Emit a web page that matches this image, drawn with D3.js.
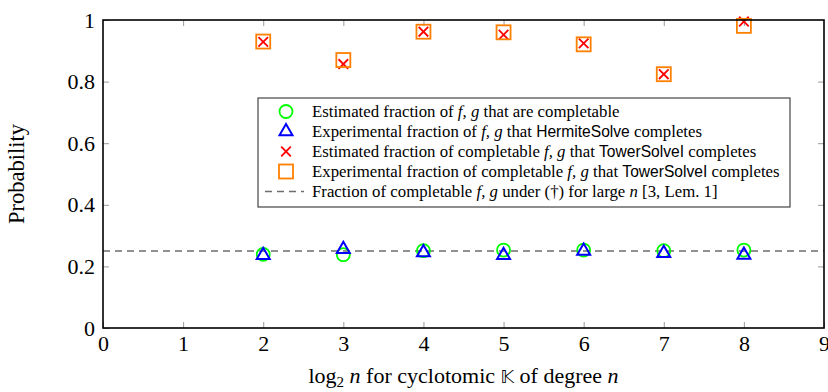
<!DOCTYPE html>
<html>
<head>
<meta charset="utf-8">
<script src="https://cdn.jsdelivr.net/npm/d3@7"></script>
<style>
  html, body { margin: 0; padding: 0; background: #fff; }
  svg { display: block; font-family: "Liberation Serif", serif; }
</style>
</head>
<body>
<div id="container"></div>
<script>
"use strict";

const width = 828;
const height = 392;
const margin = { top: 20, right: 4, bottom: 64, left: 103 };

// data
const degrees = [2, 3, 4, 5, 6, 7, 8];
const estCompletable = [0.239, 0.238, 0.251, 0.253, 0.253, 0.251, 0.253];
const expHermite = [0.236, 0.256, 0.245, 0.236, 0.250, 0.243, 0.237];
const estTower = [0.929, 0.857, 0.962, 0.952, 0.924, 0.824, 0.995];
const expTower = [0.930, 0.870, 0.962, 0.960, 0.921, 0.824, 0.981];
const largeNFraction = 0.25;

const xTicks = [0, 1, 2, 3, 4, 5, 6, 7, 8, 9];
const yTicks = [0, 0.2, 0.4, 0.6, 0.8, 1];

const legendLabels = [
  [["Estimated fraction of "], ["f, g", "i"], [" that are completable"]],
  [["Experimental fraction of "], ["f, g", "i"], [" that "], ["HermiteSolve", "s"], [" completes"]],
  [["Estimated fraction of completable "], ["f, g", "i"], [" that "], ["TowerSolveI", "s"], [" completes"]],
  [["Experimental fraction of completable "], ["f, g", "i"], [" that "], ["TowerSolveI", "s"], [" completes"]],
  [["Fraction of completable "], ["f, g", "i"], [" under (†) for large "], ["n", "i"], [" [3, Lem. 1]"]]
];

const green = "#00ff00";
const blue = "#0000ff";
const red = "#ff0000";
const orange = "#ff8000";
const tickGray = "#9a9a9a";
const dashGray = "#6e6e6e";

const svg = d3.select("#container")
  .append("svg")
  .attr("width", width)
  .attr("height", height);

const x = d3.scaleLinear().domain([0, 9]).range([margin.left, width - margin.right]);
const y = d3.scaleLinear().domain([0, 1]).range([height - margin.bottom, margin.top]);

// axes, ticks pointing inwards
function styleAxis(g, hideLabels) {
  g.select(".domain").remove();
  g.selectAll(".tick line").attr("stroke", tickGray).attr("stroke-width", 1);
  g.selectAll(".tick text")
    .attr("font-family", "Liberation Serif, serif")
    .attr("font-size", 22)
    .attr("fill", "#000");
  if (hideLabels) g.selectAll(".tick text").remove();
}

const fmt = d => (d === 0 || d === 1) ? String(d) : d3.format(".1f")(d);

svg.append("g")
  .attr("transform", `translate(0,${y(0)})`)
  .call(d3.axisBottom(x).tickValues(xTicks).tickSize(-6).tickPadding(7).tickFormat(d3.format("d")))
  .call(g => styleAxis(g, false));

svg.append("g")
  .attr("transform", `translate(0,${y(1)})`)
  .call(d3.axisTop(x).tickValues(xTicks.slice(1, -1)).tickSize(-6))
  .call(g => styleAxis(g, true));

svg.append("g")
  .attr("transform", `translate(${x(0)},0)`)
  .call(d3.axisLeft(y).tickValues(yTicks).tickSize(-6).tickPadding(8).tickFormat(fmt))
  .call(g => styleAxis(g, false));

svg.append("g")
  .attr("transform", `translate(${x(9)},0)`)
  .call(d3.axisRight(y).tickValues(yTicks.slice(1, -1)).tickSize(-6))
  .call(g => styleAxis(g, true));

// dashed reference line
svg.append("line")
  .attr("x1", x(0)).attr("x2", x(9))
  .attr("y1", y(largeNFraction)).attr("y2", y(largeNFraction))
  .attr("stroke", dashGray)
  .attr("stroke-width", 1.6)
  .attr("stroke-dasharray", "7,5");

// marker shapes
function drawCircle(g, cx, cy) {
  g.append("circle").attr("cx", cx).attr("cy", cy).attr("r", 6.5)
    .attr("fill", "none").attr("stroke", green).attr("stroke-width", 1.8);
}
function drawTriangle(g, cx, cy) {
  const r = 7.5;
  const pts = [0, 1, 2].map(i => {
    const a = -Math.PI / 2 + i * 2 * Math.PI / 3;
    return [cx + r * Math.cos(a), cy + r * Math.sin(a)];
  });
  g.append("polygon").attr("points", pts.map(p => p.join(",")).join(" "))
    .attr("fill", "none").attr("stroke", blue).attr("stroke-width", 2);
}
function drawCross(g, cx, cy) {
  const s = 4.8;
  g.append("path")
    .attr("d", `M${cx - s},${cy - s}L${cx + s},${cy + s}M${cx - s},${cy + s}L${cx + s},${cy - s}`)
    .attr("stroke", red).attr("stroke-width", 1.8).attr("fill", "none");
}
function drawSquare(g, cx, cy) {
  const s = 7;
  g.append("rect").attr("x", cx - s).attr("y", cy - s).attr("width", 2 * s).attr("height", 2 * s)
    .attr("fill", "none").attr("stroke", orange).attr("stroke-width", 1.8);
}

const series = [
  { values: estCompletable, draw: drawCircle },
  { values: expHermite, draw: drawTriangle },
  { values: estTower, draw: drawCross },
  { values: expTower, draw: drawSquare }
];

const marks = svg.append("g");
series.forEach(s => {
  degrees.forEach((d, i) => s.draw(marks, x(d), y(s.values[i])));
});

// frame
svg.append("rect")
  .attr("x", x(0)).attr("y", y(1))
  .attr("width", x(9) - x(0)).attr("height", y(0) - y(1))
  .attr("fill", "none").attr("stroke", "#000").attr("stroke-width", 1.6);

// legend
const legend = svg.append("g");
const lgX = 258, lgY = 98, lgW = 532, lgH = 109, rowH = 20;
legend.append("rect")
  .attr("x", lgX).attr("y", lgY).attr("width", lgW).attr("height", lgH)
  .attr("fill", "#fff").attr("stroke", "#444").attr("stroke-width", 1.2);

const markerX = lgX + 28;
legendLabels.forEach((segs, i) => {
  const cy = lgY + 13.5 + i * rowH;
  if (i < 4) {
    series[i].draw(legend, markerX, cy);
  } else {
    legend.append("line")
      .attr("x1", markerX - 21).attr("x2", markerX + 18)
      .attr("y1", cy).attr("y2", cy)
      .attr("stroke", dashGray).attr("stroke-width", 1.6)
      .attr("stroke-dasharray", "7,5");
  }
  const t = legend.append("text")
    .attr("x", lgX + 54).attr("y", cy + 5)
    .attr("font-size", 16.8);
  segs.forEach(([str, kind]) => {
    const sp = t.append("tspan").text(str);
    if (kind === "i") sp.attr("font-style", "italic");
    if (kind === "s") sp.attr("font-family", "Liberation Sans, sans-serif").attr("font-size", 15.6);
  });
});

// axis titles
const xl = svg.append("text")
  .attr("x", (x(0) + x(9)) / 2).attr("y", 383)
  .attr("text-anchor", "middle")
  .attr("font-size", 22);
xl.append("tspan").text("log");
xl.append("tspan").attr("font-size", 15).attr("dy", 4).text("2");
xl.append("tspan").attr("dy", -4).text(" ");
xl.append("tspan").attr("font-style", "italic").text("n");
xl.append("tspan").text(" for cyclotomic ");
xl.append("tspan").attr("font-family", "DejaVu Sans, sans-serif").attr("font-size", 18).text("\u{1D542}");
xl.append("tspan").text(" of degree ");
xl.append("tspan").attr("font-style", "italic").text("n");

svg.append("text")
  .attr("transform", `translate(24,${(y(0) + y(1)) / 2}) rotate(-90)`)
  .attr("text-anchor", "middle")
  .attr("font-size", 22.5)
  .text("Probability");
</script>
</body>
</html>
